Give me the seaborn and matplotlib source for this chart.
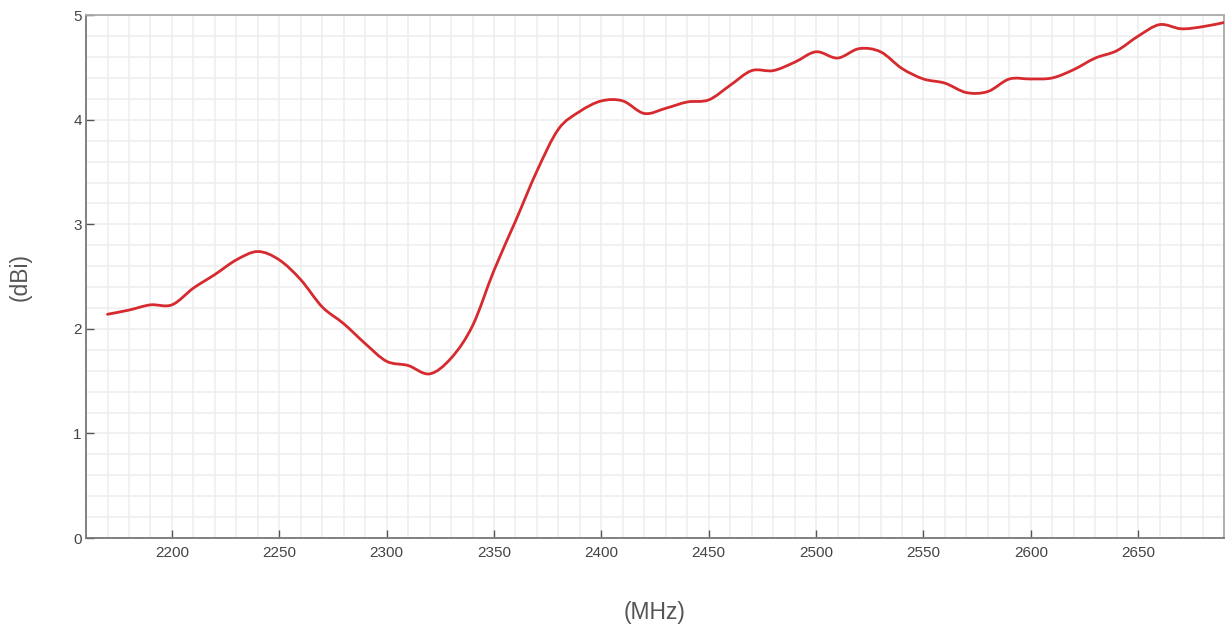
import numpy as np
import pandas as pd
import matplotlib
matplotlib.use("Agg")
import matplotlib.pyplot as plt
import seaborn as sns
from matplotlib.path import Path
from matplotlib.patches import PathPatch
from matplotlib.ticker import MultipleLocator

# Measured antenna gain versus frequency
freq_mhz = [2170, 2180, 2190, 2200, 2210, 2220, 2230, 2240, 2250, 2260,
            2270, 2280, 2290, 2300, 2310, 2320, 2330, 2340, 2350, 2360,
            2370, 2380, 2390, 2400, 2410, 2420, 2430, 2440, 2450, 2460,
            2470, 2480, 2490, 2500, 2510, 2520, 2530, 2540, 2550, 2560,
            2570, 2580, 2590, 2600, 2610, 2620, 2630, 2640, 2650, 2660,
            2670, 2680, 2690]
gain_dbi = [2.14, 2.18, 2.23, 2.23, 2.39, 2.52, 2.66, 2.74, 2.66, 2.47,
            2.21, 2.05, 1.86, 1.69, 1.65, 1.57, 1.72, 2.03, 2.56, 3.03,
            3.51, 3.91, 4.08, 4.18, 4.18, 4.06, 4.11, 4.17, 4.19, 4.33,
            4.47, 4.47, 4.55, 4.65, 4.59, 4.68, 4.65, 4.49, 4.39, 4.35,
            4.26, 4.27, 4.39, 4.39, 4.40, 4.48, 4.59, 4.66, 4.80, 4.91,
            4.87, 4.89, 4.93]

x_label = "(MHz)"
y_label = "(dBi)"

df = pd.DataFrame({"freq": freq_mhz, "gain": gain_dbi})

sns.set_theme(style="white")
plt.rcParams["font.family"] = ["Liberation Sans", "DejaVu Sans"]

fig = plt.figure(figsize=(12.29, 6.33), dpi=100)
ax = fig.add_axes([0.070, 0.150, 0.926, 0.826])

line_color = "#d62a2f"
sns.lineplot(data=df, x="freq", y="gain", ax=ax, color=line_color,
             linewidth=2.0, estimator=None, sort=True)

# Replace the polyline with a smooth Catmull-Rom curve through the same points
ln = ax.lines[0]
pts = np.column_stack(ln.get_data())
ln.remove()
verts = [tuple(pts[0])]
codes = [Path.MOVETO]
n = len(pts)
for i in range(n - 1):
    p0 = pts[max(i - 1, 0)]
    p1 = pts[i]
    p2 = pts[i + 1]
    p3 = pts[min(i + 2, n - 1)]
    c1 = p1 + (p2 - p0) / 6.0
    c2 = p2 - (p3 - p1) / 6.0
    verts += [tuple(c1), tuple(c2), tuple(p2)]
    codes += [Path.CURVE4] * 3
ax.add_patch(PathPatch(Path(verts, codes), facecolor="none",
                       edgecolor=line_color, linewidth=2.0,
                       capstyle="round", joinstyle="round", zorder=3))

ax.set_xlim(2160, 2690)
ax.set_ylim(0, 5)
ax.xaxis.set_major_locator(MultipleLocator(50))
ax.xaxis.set_minor_locator(MultipleLocator(10))
ax.yaxis.set_major_locator(MultipleLocator(1))
ax.yaxis.set_minor_locator(MultipleLocator(0.2))
ax.set_xticks([t for t in range(2200, 2651, 50)])

ax.grid(which="both", color="#eeeeee", linewidth=1.1)
ax.set_axisbelow(True)

ax.tick_params(axis="both", which="major", direction="in", length=6,
               width=1.0, color="#555555", labelcolor="#444444",
               labelsize=11, bottom=True, left=True, top=False, right=False)
ax.tick_params(axis="x", which="major", pad=6)
ax.tick_params(axis="y", which="major", pad=3)
ax.tick_params(which="minor", length=0)

for side in ("left", "bottom"):
    ax.spines[side].set_color("#777777")
    ax.spines[side].set_linewidth(1.3)
for side in ("top", "right"):
    ax.spines[side].set_visible(True)
    ax.spines[side].set_color("#aaaaaa")
    ax.spines[side].set_linewidth(1.3)

ax.set_xlabel(x_label, fontsize=16.5, color="#555555")
ax.set_ylabel(y_label, fontsize=16.5, color="#555555")
ax.xaxis.set_label_coords(0.5, -0.1415)
ax.xaxis.label.set_va("center")
ax.yaxis.set_label_coords(-0.058, 0.5)
ax.yaxis.label.set_va("center")

fig.savefig("out.png", dpi=100, facecolor="white")
